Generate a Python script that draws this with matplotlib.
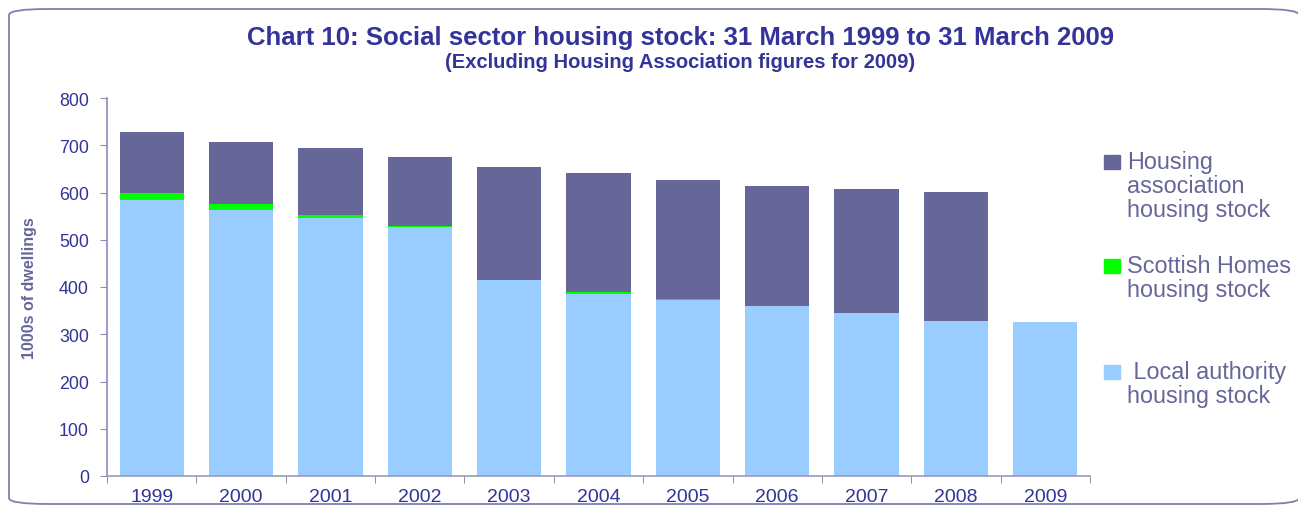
import matplotlib.pyplot as plt
from matplotlib.patches import FancyBboxPatch, Rectangle

# data (thousands of dwellings)
years = ['1999', '2000', '2001', '2002', '2003', '2004', '2005', '2006', '2007', '2008', '2009']
local_authority = [584, 563, 546, 527, 414, 385, 372, 360, 345, 328, 326]
scottish_homes = [15, 13, 6, 2, 1, 4, 3, 0, 0, 0, 0]
housing_assoc = [129, 131, 142, 146, 239, 252, 251, 254, 262, 273, 0]

c_la = '#99ccff'
c_sh = '#00ff00'
c_ha = '#666699'
txt = '#333399'
axc = '#8c8cb8'

plt.rcParams['font.family'] = ['Liberation Sans', 'DejaVu Sans']

fig = plt.figure(figsize=(12.98, 5.06), dpi=100)
ax = fig.add_axes([107/1298, 1 - 477/506, (1090 - 107)/1298, (477 - 99)/506])

x = list(range(len(years)))
w = 0.72
ax.bar(x, local_authority, w, color=c_la, zorder=2)
ax.bar(x, scottish_homes, w, bottom=local_authority, color=c_sh, zorder=2)
bottom3 = [a + b for a, b in zip(local_authority, scottish_homes)]
ax.bar(x, housing_assoc, w, bottom=bottom3, color=c_ha, zorder=2)

ax.set_xlim(-0.5, len(years) - 0.5)
ax.set_ylim(0, 800)
ax.set_yticks(range(0, 801, 100))
ax.set_xticks(x)
ax.set_xticklabels(years)
ax.set_xticks([i - 0.5 for i in range(len(years) + 1)], minor=True)
ax.tick_params(axis='x', which='major', length=0, labelsize=14, labelcolor=txt, pad=9)
ax.tick_params(axis='x', which='minor', length=5, color='#7a7a9a', direction='out')
ax.tick_params(axis='y', length=5, color=axc, labelsize=12.8, labelcolor=txt, pad=8)

for s in ['top', 'right']:
    ax.spines[s].set_visible(False)
ax.spines['left'].set_color(axc)
ax.spines['bottom'].set_color('#9a9ab8')
ax.spines['left'].set_linewidth(1.2)
ax.spines['bottom'].set_linewidth(1.2)

ax.set_ylabel('1000s of dwellings', fontsize=11.5, fontweight='bold', color='#666699', labelpad=16)

fig.text(0.524, 1 - 38/506, 'Chart 10: Social sector housing stock: 31 March 1999 to 31 March 2009',
         ha='center', va='center', fontsize=18.5, fontweight='bold', color=txt)
fig.text(0.524, 1 - 63/506, '(Excluding Housing Association figures for 2009)',
         ha='center', va='center', fontsize=14.5, fontweight='bold', color=txt)

# legend, placed by hand to match the spacing of the original
legend_items = [
    (c_ha, 'Housing\nassociation\nhousing stock', 163),
    (c_sh, 'Scottish Homes\nhousing stock', 267),
    (c_la, ' Local authority\nhousing stock', 373),
]
for col, lab, ypix in legend_items:
    fig.patches.append(Rectangle((1104/1298, 1 - (ypix + 7)/506), 16/1298, 14/506,
                                 transform=fig.transFigure, color=col))
    fig.text(1127/1298, 1 - (ypix - 12)/506, lab, ha='left', va='top',
             fontsize=16.8, color='#666699', linespacing=1.05)

# rounded frame around the chart (runs just past the right and bottom edges)
frame = FancyBboxPatch((9/1298, 1/506), 1290/1298, 495/506,
                       boxstyle='round,pad=0,rounding_size=0.03',
                       transform=fig.transFigure, fill=False,
                       edgecolor='#7f7fb0', linewidth=1.3, mutation_aspect=506/1298)
fig.patches.append(frame)

fig.savefig('out.png', dpi=100)
